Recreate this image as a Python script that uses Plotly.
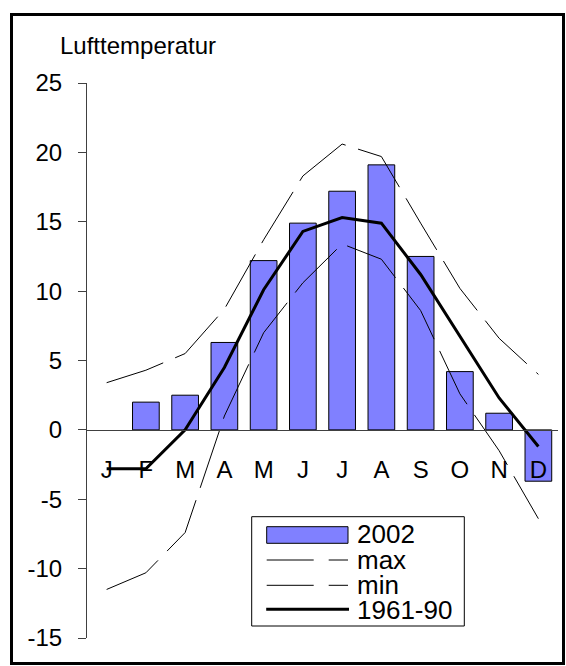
import plotly.graph_objects as go

# Monthly air temperature (°C)
months = ["J", "F", "M", "A", "M", "J", "J", "A", "S", "O", "N", "D"]
t2002 = [None, 2.0, 2.5, 6.3, 12.2, 14.9, 17.2, 19.1, 12.5, 4.2, 1.2, -3.7]
t_max = [3.4, 4.3, 5.5, 8.7, 13.7, 18.3, 20.6, 19.7, 14.9, 10.2, 6.6, 4.0]
t_min = [-11.5, -10.3, -7.4, 1.0, 7.0, 10.6, 13.4, 12.3, 8.6, 2.6, -1.5, -6.4]
t_6190 = [-2.8, -2.8, 0.0, 4.5, 10.1, 14.3, 15.3, 14.9, 11.2, 6.7, 2.3, -1.2]

legend_labels = ["2002", "max", "min", "1961-90"]
y_ticks = [-15, -10, -5, 0, 5, 10, 15, 20, 25]
y_ticktext = [str(v) for v in y_ticks]  # plain hyphen minus

FONT = "Liberation Sans, Arial, sans-serif"
BAR_COLOR = "#8080FF"
DASH = "60px,13px"

W, H = 566, 666
ML, MR, MT, MB = 87, 8, 83, 28
PW, PH = W - ML - MR, H - MT - MB


def px(x):
    return (x - ML) / PW


def py(y):
    return (H - MB - y) / PH


xs = list(range(1, len(months) + 1))

fig = go.Figure()
fig.add_trace(go.Bar(x=xs, y=t2002, marker=dict(color=BAR_COLOR, line=dict(color="black", width=1))))
fig.add_trace(go.Scatter(x=xs, y=t_max, mode="lines", line=dict(color="black", width=1, dash=DASH)))
fig.add_trace(go.Scatter(x=xs, y=t_min, mode="lines", line=dict(color="black", width=1, dash=DASH)))
fig.add_trace(go.Scatter(x=xs, y=t_6190, mode="lines", line=dict(color="black", width=3)))

y_lo, y_hi = y_ticks[0], y_ticks[-1]
zero_frac = (0 - y_lo) / (y_hi - y_lo)

fig.update_layout(
    width=W, height=H,
    margin=dict(l=ML, r=MR, t=MT, b=MB),
    paper_bgcolor="white", plot_bgcolor="white",
    showlegend=False,
    bargap=0.32,
    font=dict(family=FONT, size=24, color="black"),
    xaxis=dict(
        range=[0.5, len(months) + 0.5],
        tickvals=xs, ticktext=months,
        showgrid=False, zeroline=False,
        showline=True, linecolor="#404040", linewidth=1,
        ticks="", anchor="free", position=zero_frac,
        tickfont=dict(size=24),
        ticklabelstandoff=18,
    ),
    yaxis=dict(
        range=[y_lo, y_hi],
        tickvals=y_ticks, ticktext=y_ticktext,
        showgrid=False, zeroline=False,
        showline=True, linecolor="#404040", linewidth=1,
        ticks="outside", ticklen=8, tickcolor="#404040",
        tickfont=dict(size=24),
        ticklabelstandoff=11,
    ),
)

shapes = []
annotations = []

# outer frame
shapes.append(dict(type="rect", xref="paper", yref="paper",
                   x0=px(11.5), x1=px(563.5), y0=py(14.5), y1=py(663.5),
                   line=dict(color="black", width=3), fillcolor="rgba(0,0,0,0)", layer="above"))

# legend box
lx0, lx1, ly0, ly1 = 251.7, 464.3, 516.7, 626.0
shapes.append(dict(type="rect", xref="paper", yref="paper",
                   x0=px(lx0), x1=px(lx1), y0=py(ly1), y1=py(ly0),
                   line=dict(color="black", width=1), fillcolor="white", layer="above"))
sx0, sx1 = 266.7, 348.0
shapes.append(dict(type="rect", xref="paper", yref="paper",
                   x0=px(sx0), x1=px(sx1), y0=py(543.3), y1=py(526.7),
                   line=dict(color="black", width=1), fillcolor=BAR_COLOR, layer="above"))
for yl in (560.0, 585.3):
    shapes.append(dict(type="line", xref="paper", yref="paper",
                       x0=px(sx0), x1=px(sx1), y0=py(yl), y1=py(yl),
                       line=dict(color="black", width=1, dash="47px,15px"), layer="above"))
shapes.append(dict(type="line", xref="paper", yref="paper",
                   x0=px(sx0 - 0.5), x1=px(sx1 + 1), y0=py(609.3), y1=py(609.3),
                   line=dict(color="black", width=3), layer="above"))

# legend entries sit 25 px apart, so each text box is kept to that height
for lab, yc in zip(legend_labels, (534.2, 560.2, 585.2, 610.2)):
    annotations.append(dict(text=lab, xref="paper", yref="paper", x=px(355.0), y=py(yc),
                            xanchor="left", yanchor="middle", showarrow=False,
                            height=24, valign="middle",
                            font=dict(size=26, family=FONT, color="black")))

annotations.append(dict(text="Lufttemperatur", xref="paper", yref="paper",
                        x=px(58.3), y=py(45.5), xanchor="left", yanchor="middle",
                        showarrow=False, font=dict(size=24, family=FONT, color="black")))

fig.update_layout(shapes=shapes, annotations=annotations)

fig.write_html("out.html")
